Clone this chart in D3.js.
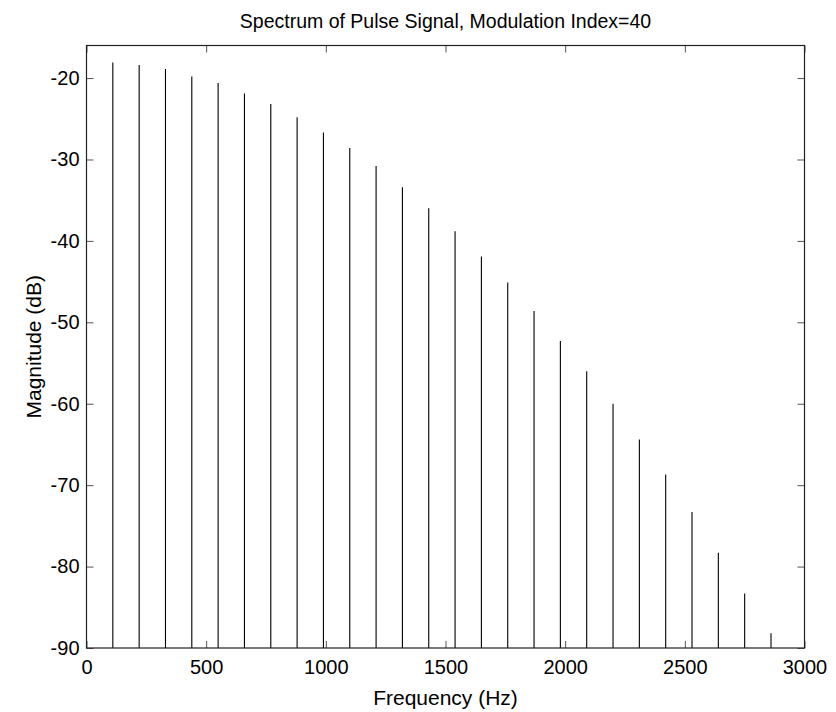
<!DOCTYPE html>
<html>
<head>
<meta charset="utf-8">
<script src="https://cdn.jsdelivr.net/npm/d3@7"></script>
<style>
  body { margin: 0; background: #fff; }
  text { font-family: "Liberation Sans", Arial, Helvetica, sans-serif; fill: #000; }
</style>
</head>
<body>
<script>
// harmonic number of each spectral line (spacing ~110 Hz)
const harmonics = d3.range(1, 27);
const lineSpacing = 110;
// magnitudes, in dB
const magnitudes = [
  -18.1, -18.4, -18.9, -19.8, -20.6, -21.9, -23.2, -24.8, -26.7, -28.6,
  -30.8, -33.4, -36.0, -38.8, -41.9, -45.1, -48.6, -52.3, -56.0, -60.0,
  -64.4, -68.7, -73.3, -78.3, -83.3, -88.2
];
const xTicks = [0, 500, 1000, 1500, 2000, 2500, 3000];
const yTicks = [-90, -80, -70, -60, -50, -40, -30, -20];

const lines = harmonics.map((k, i) => ({ f: k * lineSpacing, db: magnitudes[i] }));

const W = 836, H = 712;
const margin = { top: 45.5, left: 86.5 },
    width = 718,
    height = 602.5;

const svg = d3.select('body')
    .append('svg')
    .attr('width', W)
    .attr('height', H)
    .append('g')
    .attr('transform', `translate(${margin.left}, ${margin.top})`);

const x = d3.scaleLinear().domain([0, 3000]).range([0, width]);
const y = d3.scaleLinear().domain([-90, -16]).range([height, 0]);

// spectral lines
svg.append('g')
    .selectAll('line')
    .data(lines)
    .join('line')
    .attr('x1', d => x(d.f))
    .attr('x2', d => x(d.f))
    .attr('y1', y(-90))
    .attr('y2', d => y(d.db))
    .attr('stroke', '#000')
    .attr('stroke-width', 1.1);

// plain labels: ascii minus, no thousands separator
const plain = d => String(d);

// ticks inward on all four sides, labels only bottom / left
const tk = 7;
svg.append('g')
    .attr('transform', `translate(0, ${height})`)
    .call(d3.axisBottom(x).tickValues(xTicks).tickSize(-tk).tickPadding(12).tickFormat(plain))
    .attr('font-size', 20);

svg.append('g')
    .call(d3.axisTop(x).tickValues(xTicks).tickSize(-tk).tickFormat(''));

svg.append('g')
    .call(d3.axisLeft(y).tickValues(yTicks).tickSize(-tk).tickPadding(7).tickFormat(plain))
    .attr('font-size', 20);

svg.append('g')
    .attr('transform', `translate(${width}, 0)`)
    .call(d3.axisRight(y).tickValues(yTicks).tickSize(-tk).tickFormat(''));

svg.selectAll('.domain').remove();
svg.selectAll('.tick line').attr('stroke', '#555');
svg.selectAll('.tick text').attr('font-family', '"Liberation Sans", Arial, sans-serif');

// box
svg.append('rect')
    .attr('width', width)
    .attr('height', height)
    .attr('fill', 'none')
    .attr('stroke', '#222')
    .attr('stroke-width', 1.2);

svg.append('text')
    .attr('x', width / 2)
    .attr('y', 28 - margin.top)
    .attr('text-anchor', 'middle')
    .attr('font-size', 19.5)
    .text('Spectrum of Pulse Signal, Modulation Index=40');

svg.append('text')
    .attr('x', width / 2)
    .attr('y', 705 - margin.top)
    .attr('text-anchor', 'middle')
    .attr('font-size', 21)
    .text('Frequency (Hz)');

svg.append('text')
    .attr('transform', 'rotate(-90)')
    .attr('x', -height / 2)
    .attr('y', 41 - margin.left)
    .attr('text-anchor', 'middle')
    .attr('font-size', 21)
    .text('Magnitude (dB)');
</script>
</body>
</html>
